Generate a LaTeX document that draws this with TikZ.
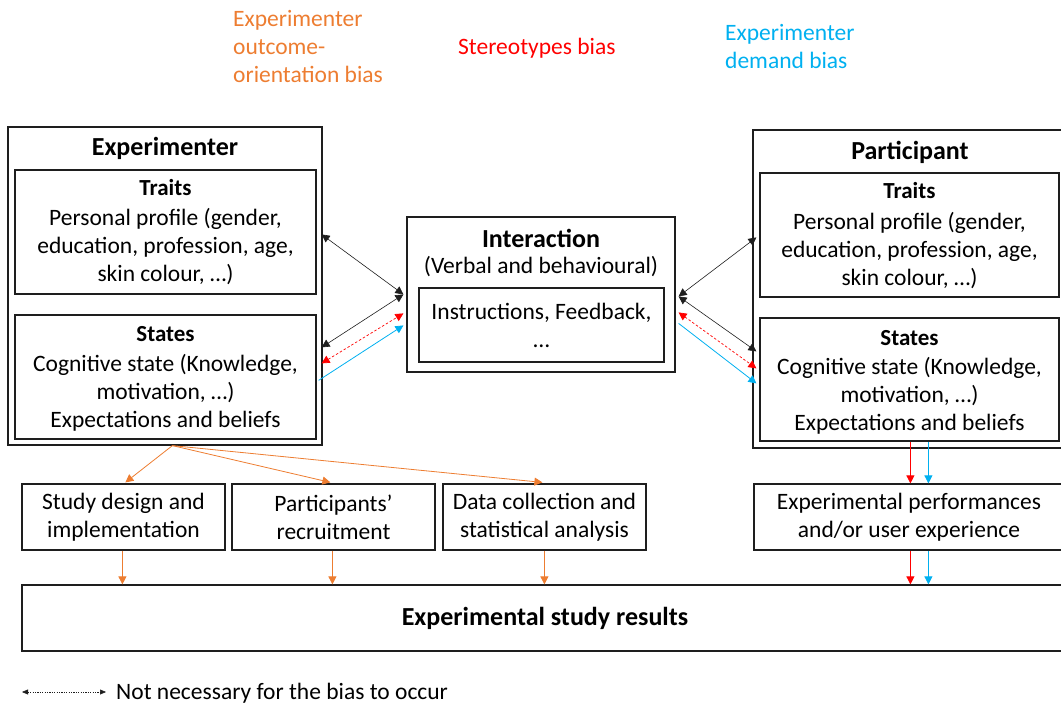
\documentclass[tikz,border=0pt]{standalone}
\usepackage{fontspec}
\setmainfont{Carlito}
\usetikzlibrary{arrows.meta,calc}
\definecolor{bOrange}{RGB}{237,125,49}
\definecolor{bRed}{RGB}{255,0,0}
\definecolor{bBlue}{RGB}{0,176,240}
\definecolor{bLine}{RGB}{30,30,30}
\begin{document}
\begin{tikzpicture}[x=1pt,y=-1pt,
  box/.style={draw=bLine, line width=1.2pt, inner sep=0pt, align=center,
    font=\fontsize{23.5}{28}\selectfont},
  txt/.style={align=center, inner sep=0pt, font=\fontsize{23.5}{28}\selectfont},
  ttl/.style={inner sep=0pt, font=\bfseries\fontsize{26}{28}\selectfont},
  sub/.style={inner sep=0pt, font=\bfseries\fontsize{23}{28}\selectfont},
  bias/.style={inner sep=0pt, align=left, font=\fontsize{23.5}{28}\selectfont},
  blk/.style={draw=bLine, line width=0.6pt, {Triangle[length=8pt,width=8pt]}-{Triangle[length=8pt,width=8pt]}},
  redd/.style={draw=bRed, line width=0.7pt, dash pattern=on 2.5pt off 2pt, {Triangle[length=8pt,width=8pt]}-{Triangle[length=8pt,width=8pt]}},
  blu/.style={draw=bBlue, line width=0.8pt, -{Triangle[length=8pt,width=8pt]}},
  org/.style={draw=bOrange, line width=0.8pt, -{Triangle[length=8pt,width=8pt]}},
  redv/.style={draw=bRed, line width=0.8pt, -{Triangle[length=8pt,width=8pt]}},
]
\useasboundingbox (0,0) rectangle (1061,706);

% bias labels
\node[bias, text=bOrange, anchor=west] (bOut) at (233,47) {Experimenter\\outcome-\\orientation bias};
\node[bias, text=bRed, anchor=west] (bSter) at (458,48) {Stereotypes bias};
\node[bias, text=bBlue, anchor=west] (bDem) at (725,47) {Experimenter\\demand bias};

% Experimenter
\node[box, minimum width=314, minimum height=318] (expO) at (165,286) {};
\node[ttl] (expTitle) at (165,148) {Experimenter};
\node[box, minimum width=301, minimum height=124] (expT) at (165.5,232) {};
\node[sub] (expTT) at (165.5,188) {Traits};
\node[txt] (expTx) at (165.5,247) {Personal profile (gender,\\education, profession, age,\\skin colour, …)};
\node[box, minimum width=301, minimum height=124] (expS) at (165.5,377) {};
\node[sub] (expST) at (165.5,334) {States};
\node[txt] (expSx) at (165.5,393) {Cognitive state (Knowledge,\\motivation, …)\\Expectations and beliefs};

% Interaction
\node[box, minimum width=268, minimum height=155] (intO) at (541,294.5) {};
\node[ttl] (intTitle) at (541,238) {Interaction};
\node[txt] (intSub) at (541,267) {(Verbal and behavioural)};
\node[box, minimum width=245, minimum height=74] (intI) at (541.5,325) {Instructions, Feedback,\\…};

% Participant
\node[box, minimum width=314, minimum height=318] (parO) at (910,289) {};
\node[ttl] (parTitle) at (910,152) {Participant};
\node[box, minimum width=299, minimum height=124] (parT) at (909.5,235) {};
\node[sub] (parTT) at (909.5,191) {Traits};
\node[txt] (parTx) at (909.5,251) {Personal profile (gender,\\education, profession, age,\\skin colour, …)};
\node[box, minimum width=299, minimum height=123] (parS) at (909.5,379.5) {};
\node[sub] (parST) at (909.5,338) {States};
\node[txt] (parSx) at (909.5,396) {Cognitive state (Knowledge,\\motivation, …)\\Expectations and beliefs};

% bottom boxes
\node[box, minimum width=203, minimum height=66] (study) at (123.5,517) {Study design and\\implementation};
\node[box, minimum width=203, minimum height=66] (recr) at (333.5,517) {Participants’\\recruitment};
\node[box, minimum width=203, minimum height=66] (data) at (544.5,517) {Data collection and\\statistical analysis};
\node[box, minimum width=310, minimum height=66] (perf) at (909,517) {Experimental performances\\and/or user experience};
\node[box, minimum width=1043, minimum height=66] (res) at (543.5,618) {};
\node[inner sep=0pt, font=\bfseries\fontsize{26}{28}\selectfont] (resT) at (545,618) {Experimental study results};

% coordinates on box edges
\coordinate (eA) at ($(expO.north east)+(-1,108)$);
\coordinate (eB) at ($(expO.north east)+(-1,221)$);
\coordinate (eC) at ($(expO.north east)+(-1,237)$);
\coordinate (eD) at ($(expO.north east)+(-4,254)$);
\coordinate (iL) at ($(intO.north west)+(-3,78)$);
\coordinate (iLr) at ($(intO.north west)+(-3,97)$);
\coordinate (iLb) at ($(intO.north west)+(-3,109)$);
\coordinate (iR) at ($(intO.north east)+(3,80)$);
\coordinate (iRr) at ($(intO.north east)+(3,96)$);
\coordinate (iRb) at ($(intO.north east)+(3,107)$);
\coordinate (pA) at ($(parO.north west)+(4,108)$);
\coordinate (pB) at ($(parO.north west)+(4,222)$);
\coordinate (pC) at ($(parO.north west)+(4,239)$);
\coordinate (pD) at ($(parO.north west)+(4,254)$);

% interaction connectors
\draw[blk] (eA) -- (iL);
\draw[blk] (eB) -- (iL);
\draw[redd] (eC) -- (iLr);
\draw[blu] (eD) -- (iLb);
\draw[blk] (iR) -- (pA);
\draw[blk] (iR) -- (pB);
\draw[redd] (iRr) -- (pC);
\draw[blu] (iRb) -- (pD);

% orange connectors
\coordinate (eBot) at ($(expO.south west)+(165,0)$);
\draw[org] (eBot) -- ($(study.north west)+(104,-1)$);
\draw[org] (eBot) -- ($(recr.north west)+(99,-1)$);
\draw[org] (eBot) -- ($(data.north west)+(100,-1)$);
\draw[org] ($(study.south west)+(101,0)$) -- ($(res.north west)+(101,0)$);
\draw[org] ($(recr.south west)+(101,0)$) -- ($(res.north west)+(311,0)$);
\draw[org] ($(data.south west)+(102,0)$) -- ($(res.north west)+(523,0)$);

% red/blue verticals
\draw[redv] ($(parS.south west)+(151,0)$) -- ($(perf.north west)+(157,0)$);
\draw[blu] ($(parS.south west)+(169,0)$) -- ($(perf.north west)+(175,0)$);
\draw[redv] ($(perf.south west)+(157,0)$) -- ($(res.north west)+(889,0)$);
\draw[blu] ($(perf.south west)+(175,0)$) -- ($(res.north west)+(907,0)$);

% legend
\coordinate (lgA) at (22,692);
\coordinate (lgB) at (106,692);
\draw[draw=bLine, line width=0.5pt, dash pattern=on 1.2pt off 1.2pt, {Triangle[length=6pt,width=5pt]}-{Triangle[length=6pt,width=5pt]}] (lgA) -- (lgB);
\node[anchor=west, inner sep=0pt, font=\fontsize{23.5}{28}\selectfont] (lgT) at (116,693) {Not necessary for the bias to occur};
\end{tikzpicture}
\end{document}
